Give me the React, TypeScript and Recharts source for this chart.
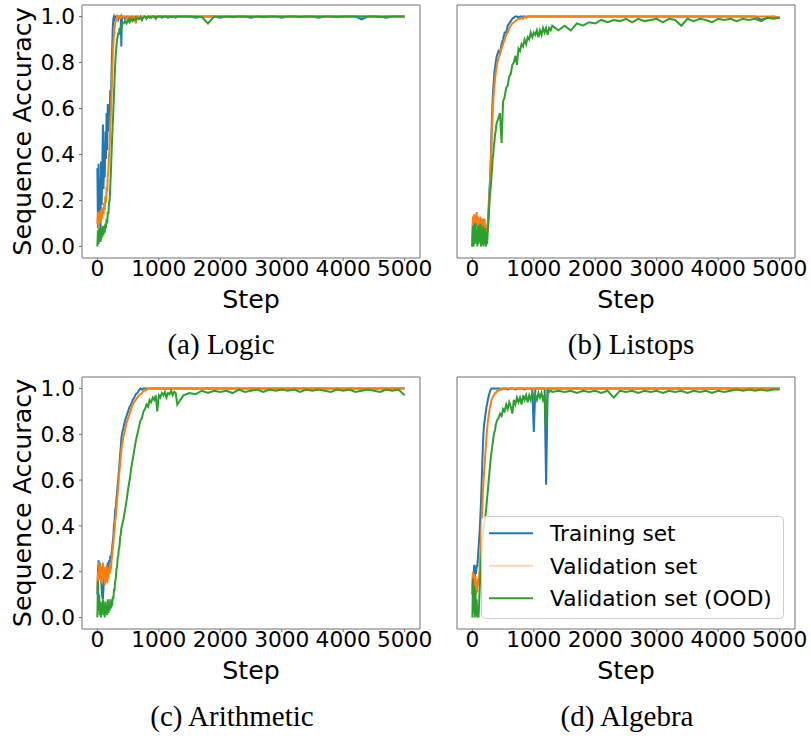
import React from "react";
import { LineChart, Line, XAxis, YAxis, ReferenceArea } from "recharts";

// training step grid (dense during the rise, sparse on the plateau)
const steps = [
  0, 10, 20, 30, 40, 50, 60, 70, 80, 90, 100, 110, 120, 130, 140, 150, 160, 170, 180, 190,
  200, 210, 220, 230, 240, 250, 260, 270, 280, 290, 300, 310, 320, 330, 340, 350, 360, 370, 380, 390, 400,
  425, 450, 475, 500, 525, 550, 575, 600, 625, 650, 675, 700, 725, 750, 775, 800, 825, 850, 875, 900,
  925, 950, 975, 1000, 1025, 1050, 1075, 1100, 1125, 1150, 1175, 1200, 1225, 1250, 1275, 1300,
  1400, 1500, 1600, 1700, 1800, 1900, 2000, 2100, 2200, 2300, 2400, 2500, 2600, 2700, 2800, 2900, 3000,
  3100, 3200, 3300, 3400, 3500, 3600, 3700, 3800, 3900, 4000, 4100, 4200, 4300, 4400, 4500, 4600, 4700,
  4800, 4900, 5000,
];

const logicTrain = [
  0.34, 0.08, 0.36, 0.12, 0.30, 0.02, 0.37, 0.18, 0.33, 0.53,
  0.25, 0.45, 0.30, 0.50, 0.38, 0.58, 0.42, 0.62, 0.50, 0.60,
  0.55, 0.68, 0.62, 0.75, 0.85, 0.95, 0.99, 1.0, 0.99, 1.0,
  1.0, 0.995, 1.0, 1.0, 0.99, 1.0, 1.0, 0.995, 1.0, 0.87, 1.0,
  1.0, 0.99, 1.0, 1.0, 0.985, 1.0, 1.0, 0.99, 1.0, 1.0,
  0.99, 1.0, 0.985, 1.0, 1.0, 0.99, 1.0, 1.0, 0.995, 1.0,
  1.0, 0.99, 1.0, 1.0, 1.0, 0.995, 1.0, 1.0, 1.0, 0.995,
  1.0, 1.0, 1.0, 1.0, 0.995, 1.0,
  1.0, 1.0, 0.995, 1.0, 1.0, 1.0, 0.995, 1.0, 1.0, 1.0,
  1.0, 0.995, 1.0, 1.0, 1.0, 1.0, 0.995, 1.0, 1.0, 1.0,
  1.0, 1.0, 0.995, 1.0, 1.0, 1.0, 1.0, 1.0, 1.0, 0.987,
  1.0, 1.0, 1.0, 0.995, 1.0, 1.0, 1.0,
];
const logicVal = [
  0.10, 0.15, 0.08, 0.14, 0.10, 0.16, 0.11, 0.15, 0.12, 0.17,
  0.14, 0.19, 0.16, 0.22, 0.19, 0.26, 0.24, 0.31, 0.33, 0.40,
  0.44, 0.52, 0.58, 0.66, 0.74, 0.82, 0.88, 0.92, 0.95, 0.97,
  0.98, 0.99, 1.0, 0.99, 1.0, 1.0, 1.0, 1.0, 0.995, 1.0, 1.0,
  1.0, 1.0, 0.99, 1.0, 1.0, 0.985, 1.0, 1.0, 0.97, 1.0,
  1.0, 0.99, 1.0, 1.0, 1.0, 0.995, 1.0, 1.0, 1.0, 1.0,
  0.995, 1.0, 1.0, 1.0, 1.0, 1.0, 1.0, 1.0, 1.0, 1.0,
  1.0, 1.0, 1.0, 1.0, 1.0, 1.0,
  1.0, 1.0, 1.0, 1.0, 1.0, 1.0, 1.0, 1.0, 1.0, 1.0,
  1.0, 1.0, 1.0, 1.0, 1.0, 1.0, 1.0, 1.0, 1.0, 1.0,
  1.0, 1.0, 1.0, 1.0, 1.0, 1.0, 1.0, 1.0, 1.0, 1.0,
  1.0, 1.0, 1.0, 1.0, 1.0, 1.0, 1.0,
];
const logicOod = [
  0.0, 0.07, 0.01, 0.08, 0.02, 0.07, 0.03, 0.08, 0.04, 0.09,
  0.05, 0.09, 0.06, 0.10, 0.08, 0.12, 0.10, 0.15, 0.14, 0.19,
  0.20, 0.26, 0.32, 0.40, 0.47, 0.53, 0.59, 0.66, 0.73, 0.79,
  0.84, 0.87, 0.90, 0.91, 0.93, 0.92, 0.95, 0.94, 0.96, 0.95, 0.97,
  0.97, 0.98, 0.97, 0.985, 0.975, 0.99, 0.98, 0.99, 0.985, 0.995,
  0.99, 0.995, 0.99, 0.995, 1.0, 0.995, 1.0, 0.995, 1.0, 1.0,
  1.0, 0.998, 1.0, 1.0, 1.0, 1.0, 0.998, 1.0, 1.0, 1.0,
  1.0, 0.998, 1.0, 1.0, 1.0, 1.0,
  1.0, 1.0, 1.0, 0.998, 0.97, 1.0, 1.0, 1.0, 0.998, 1.0,
  1.0, 1.0, 1.0, 0.998, 1.0, 1.0, 1.0, 1.0, 1.0, 0.998,
  1.0, 1.0, 1.0, 1.0, 1.0, 0.998, 1.0, 1.0, 1.0, 1.0,
  1.0, 1.0, 0.998, 1.0, 1.0, 1.0, 1.0,
];

const listopsTrain = [
  0.0, 0.12, 0.10, 0.13, 0.08, 0.12, 0.09, 0.13, 0.10, 0.12,
  0.07, 0.11, 0.08, 0.12, 0.09, 0.06, 0.11, 0.08, 0.12, 0.07,
  0.10, 0.06, 0.09, 0.05, 0.07, 0.10, 0.14, 0.20, 0.26, 0.30,
  0.38, 0.48, 0.57, 0.64, 0.69, 0.72, 0.76, 0.78, 0.80, 0.82, 0.83,
  0.85, 0.84, 0.88, 0.90, 0.93, 0.93, 0.96, 0.97, 0.98, 0.99,
  0.995, 1.0, 1.0, 0.995, 1.0, 1.0, 1.0, 1.0, 0.998, 1.0,
  1.0, 1.0, 1.0, 1.0, 1.0, 1.0, 1.0, 1.0, 1.0, 1.0,
  1.0, 1.0, 1.0, 1.0, 1.0, 1.0,
  1.0, 1.0, 1.0, 1.0, 1.0, 1.0, 1.0, 1.0, 1.0, 1.0,
  1.0, 1.0, 1.0, 1.0, 1.0, 1.0, 1.0, 1.0, 1.0, 1.0,
  1.0, 1.0, 1.0, 1.0, 1.0, 1.0, 1.0, 1.0, 1.0, 1.0,
  1.0, 1.0, 1.0, 0.985, 0.995, 1.0, 0.995,
];
const listopsVal = [
  0.0, 0.13, 0.11, 0.14, 0.10, 0.13, 0.11, 0.15, 0.09, 0.13,
  0.10, 0.12, 0.08, 0.13, 0.07, 0.10, 0.12, 0.07, 0.11, 0.08,
  0.12, 0.06, 0.09, 0.07, 0.06, 0.09, 0.12, 0.17, 0.23, 0.29,
  0.36, 0.44, 0.52, 0.58, 0.63, 0.67, 0.70, 0.73, 0.75, 0.77, 0.79,
  0.82, 0.84, 0.86, 0.88, 0.90, 0.92, 0.93, 0.95, 0.96, 0.97,
  0.975, 0.98, 0.985, 0.99, 0.99, 0.995, 0.99, 1.0, 0.995, 1.0,
  1.0, 1.0, 1.0, 1.0, 1.0, 1.0, 1.0, 1.0, 1.0, 1.0,
  1.0, 1.0, 1.0, 1.0, 1.0, 1.0,
  1.0, 1.0, 1.0, 1.0, 1.0, 1.0, 1.0, 1.0, 1.0, 1.0,
  1.0, 1.0, 1.0, 1.0, 1.0, 1.0, 1.0, 1.0, 1.0, 1.0,
  1.0, 1.0, 1.0, 1.0, 1.0, 1.0, 1.0, 1.0, 1.0, 1.0,
  1.0, 1.0, 1.0, 1.0, 1.0, 1.0, 0.995,
];
const listopsOod = [
  0.0, 0.09, 0.0, 0.08, 0.01, 0.10, 0.02, 0.07, 0.0, 0.09,
  0.01, 0.08, 0.02, 0.10, 0.0, 0.07, 0.01, 0.09, 0.0, 0.06,
  0.01, 0.08, 0.0, 0.05, 0.01, 0.06, 0.10, 0.15, 0.20, 0.24,
  0.26, 0.30, 0.34, 0.38, 0.40, 0.44, 0.46, 0.49, 0.50, 0.53, 0.54,
  0.56, 0.58, 0.45, 0.63, 0.65, 0.69, 0.70, 0.74, 0.75, 0.79,
  0.80, 0.83, 0.79, 0.86, 0.85, 0.88, 0.87, 0.90, 0.88, 0.91,
  0.90, 0.93, 0.91, 0.93, 0.92, 0.94, 0.91, 0.94, 0.92, 0.95,
  0.93, 0.95, 0.92, 0.95, 0.94, 0.96,
  0.94, 0.96, 0.94, 0.97, 0.96, 0.975, 0.97, 0.985, 0.975, 0.985,
  0.98, 0.99, 0.975, 0.99, 0.98, 0.985, 0.99, 0.975, 0.99, 0.985,
  0.96, 0.99, 0.98, 0.99, 0.985, 0.975, 0.99, 0.985, 0.99, 0.98,
  0.99, 0.985, 0.99, 0.98, 0.995, 0.99, 0.995,
];

const arithTrain = [
  0.10, 0.20, 0.25, 0.18, 0.24, 0.17, 0.22, 0.12, 0.09, 0.08,
  0.13, 0.18, 0.15, 0.21, 0.17, 0.22, 0.19, 0.24, 0.20, 0.25,
  0.22, 0.27, 0.24, 0.28, 0.30, 0.33, 0.35, 0.40, 0.42, 0.47,
  0.48, 0.52, 0.54, 0.58, 0.60, 0.64, 0.67, 0.71, 0.74, 0.78, 0.80,
  0.83, 0.86, 0.88, 0.90, 0.92, 0.93, 0.95, 0.96, 0.975, 0.98,
  0.99, 1.0, 0.995, 1.0, 1.0, 1.0, 1.0, 1.0, 1.0, 1.0,
  1.0, 1.0, 1.0, 1.0, 1.0, 1.0, 1.0, 1.0, 1.0, 1.0,
  1.0, 1.0, 1.0, 1.0, 1.0, 1.0,
  1.0, 1.0, 1.0, 1.0, 1.0, 1.0, 1.0, 1.0, 1.0, 1.0,
  1.0, 1.0, 1.0, 1.0, 1.0, 1.0, 1.0, 1.0, 1.0, 1.0,
  1.0, 1.0, 1.0, 1.0, 1.0, 1.0, 1.0, 1.0, 1.0, 1.0,
  1.0, 1.0, 1.0, 1.0, 1.0, 1.0, 1.0,
];
const arithVal = [
  0.12, 0.20, 0.16, 0.24, 0.18, 0.23, 0.15, 0.21, 0.17, 0.24,
  0.18, 0.22, 0.14, 0.20, 0.16, 0.23, 0.15, 0.21, 0.17, 0.22,
  0.19, 0.24, 0.21, 0.25, 0.27, 0.30, 0.32, 0.36, 0.38, 0.42,
  0.44, 0.48, 0.51, 0.54, 0.57, 0.61, 0.64, 0.67, 0.70, 0.73, 0.75,
  0.79, 0.82, 0.85, 0.87, 0.89, 0.91, 0.93, 0.94, 0.95, 0.96,
  0.97, 0.975, 0.98, 0.99, 0.99, 0.995, 1.0, 1.0, 1.0, 1.0,
  1.0, 1.0, 1.0, 1.0, 1.0, 1.0, 1.0, 1.0, 1.0, 1.0,
  1.0, 1.0, 1.0, 1.0, 1.0, 1.0,
  1.0, 1.0, 1.0, 1.0, 1.0, 1.0, 1.0, 1.0, 1.0, 1.0,
  1.0, 1.0, 1.0, 1.0, 1.0, 1.0, 1.0, 1.0, 1.0, 1.0,
  1.0, 1.0, 1.0, 1.0, 1.0, 1.0, 1.0, 1.0, 1.0, 1.0,
  1.0, 1.0, 1.0, 1.0, 1.0, 1.0, 1.0,
];
const arithOod = [
  0.0, 0.16, 0.03, 0.10, 0.01, 0.07, 0.0, 0.06, 0.02, 0.08,
  0.01, 0.06, 0.0, 0.07, 0.02, 0.05, 0.01, 0.08, 0.02, 0.06,
  0.03, 0.08, 0.04, 0.07, 0.05, 0.09, 0.08, 0.12, 0.12, 0.16,
  0.17, 0.21, 0.22, 0.26, 0.27, 0.30, 0.31, 0.35, 0.36, 0.39, 0.40,
  0.43, 0.47, 0.51, 0.56, 0.60, 0.65, 0.69, 0.73, 0.77, 0.80,
  0.83, 0.86, 0.87, 0.90, 0.91, 0.93, 0.92, 0.95, 0.94, 0.96,
  0.95, 0.97, 0.90, 0.97, 0.96, 0.98, 0.97, 0.985, 0.96, 0.98,
  0.975, 0.99, 0.97, 0.985, 0.98, 0.93,
  0.97, 0.98, 0.975, 0.99, 0.98, 0.99, 0.985, 0.99, 0.98, 0.995,
  0.985, 0.99, 0.995, 0.985, 0.995, 0.99, 0.995, 0.99, 0.995, 0.985,
  0.995, 0.99, 0.995, 0.99, 0.985, 0.995, 0.99, 0.995, 0.985, 0.99,
  0.995, 0.99, 0.985, 0.995, 0.99, 0.995, 0.97,
];

const algebraTrain = [
  0.10, 0.20, 0.17, 0.23, 0.18, 0.22, 0.19, 0.23, 0.22, 0.26,
  0.30, 0.34, 0.38, 0.44, 0.50, 0.58, 0.66, 0.74, 0.80, 0.84,
  0.86, 0.88, 0.90, 0.92, 0.93, 0.95, 0.96, 0.97, 0.98, 0.99,
  0.995, 1.0, 1.0, 1.0, 1.0, 1.0, 1.0, 1.0, 1.0, 1.0, 1.0,
  1.0, 1.0, 0.995, 1.0, 1.0, 1.0, 0.995, 1.0, 1.0, 1.0,
  1.0, 0.995, 1.0, 1.0, 1.0, 1.0, 1.0, 0.995, 1.0, 1.0,
  1.0, 1.0, 1.0, 0.81, 1.0, 1.0, 1.0, 1.0, 1.0, 1.0,
  1.0, 0.58, 1.0, 1.0, 1.0, 1.0,
  1.0, 1.0, 1.0, 1.0, 1.0, 1.0, 1.0, 1.0, 1.0, 1.0,
  1.0, 1.0, 1.0, 1.0, 1.0, 1.0, 1.0, 1.0, 1.0, 1.0,
  1.0, 1.0, 1.0, 1.0, 1.0, 1.0, 1.0, 1.0, 1.0, 1.0,
  1.0, 1.0, 1.0, 1.0, 1.0, 1.0, 1.0,
];
const algebraVal = [
  0.13, 0.20, 0.15, 0.19, 0.12, 0.18, 0.10, 0.16, 0.11, 0.17,
  0.14, 0.18, 0.22, 0.28, 0.34, 0.40, 0.47, 0.54, 0.59, 0.63,
  0.67, 0.71, 0.75, 0.79, 0.82, 0.85, 0.87, 0.89, 0.91, 0.92,
  0.935, 0.945, 0.955, 0.96, 0.965, 0.97, 0.975, 0.98, 0.98, 0.985, 0.99,
  0.99, 0.995, 1.0, 1.0, 0.998, 1.0, 1.0, 1.0, 1.0, 1.0,
  1.0, 1.0, 1.0, 1.0, 1.0, 1.0, 1.0, 1.0, 1.0, 1.0,
  1.0, 1.0, 1.0, 1.0, 1.0, 1.0, 1.0, 1.0, 1.0, 1.0,
  1.0, 1.0, 1.0, 1.0, 1.0, 1.0,
  1.0, 1.0, 1.0, 1.0, 1.0, 1.0, 1.0, 1.0, 1.0, 1.0,
  1.0, 1.0, 1.0, 1.0, 1.0, 1.0, 1.0, 1.0, 1.0, 1.0,
  1.0, 1.0, 1.0, 1.0, 1.0, 1.0, 1.0, 1.0, 1.0, 1.0,
  1.0, 1.0, 1.0, 1.0, 1.0, 1.0, 1.0,
];
const algebraOod = [
  0.0, 0.17, 0.02, 0.14, 0.0, 0.12, 0.01, 0.08, 0.0, 0.03,
  0.0, 0.06, 0.13, 0.19, 0.24, 0.28, 0.32, 0.35, 0.38, 0.40,
  0.42, 0.44, 0.46, 0.49, 0.52, 0.55, 0.58, 0.61, 0.64, 0.67,
  0.70, 0.72, 0.74, 0.76, 0.78, 0.80, 0.81, 0.82, 0.84, 0.85, 0.86,
  0.87, 0.89, 0.88, 0.91, 0.90, 0.93, 0.91, 0.94, 0.92, 0.89,
  0.95, 0.93, 0.96, 0.94, 0.96, 0.93, 0.97, 0.95, 0.97, 0.94,
  0.97, 0.95, 0.98, 0.96, 0.97, 0.95, 0.98, 0.96, 0.98, 0.95,
  0.97, 0.83, 0.99, 0.985, 0.99, 0.985,
  0.99, 0.985, 0.99, 0.98, 0.99, 0.985, 0.99, 0.98, 0.99, 0.96,
  0.99, 0.985, 0.99, 0.98, 0.99, 0.985, 0.99, 0.98, 0.99, 0.985,
  0.99, 0.98, 0.99, 0.985, 0.99, 0.98, 0.99, 0.985, 0.99, 0.995,
  0.99, 0.995, 0.99, 0.995, 0.99, 0.995, 0.995,
];

const xTicks = [0, 1000, 2000, 3000, 4000, 5000];
const yTicks = [0, 0.2, 0.4, 0.6, 0.8, 1.0];
const seriesNames = ["Training set", "Validation set", "Validation set (OOD)"];
const seriesColors = ["#1f77b4", "#ff7f0e", "#2ca02c"];
const legendColors = ["#1f77b4", "#ffd3ad", "#2ca02c"];

const SANS = "'DejaVu Sans', Verdana, sans-serif";
const SERIF = "'Liberation Serif', 'Times New Roman', serif";
const SPINE = "#707070";
const PLOT_W = 338;

type PanelProps = {
  left: number;
  top: number;
  plotH: number;
  marginTop: number;
  showY: boolean;
  train: number[];
  val: number[];
  ood: number[];
};

const Panel = ({ left, top, plotH, marginTop, showY, train, val, ood }: PanelProps) => {
  const data = steps.map((step, i) => ({ step, train: train[i], val: val[i], ood: ood[i] }));
  const yW = showY ? 82 : 12;
  const mr = showY ? 18 : 14;
  return (
    <div style={{ position: "absolute", left, top }}>
      <LineChart
        width={yW + PLOT_W + mr}
        height={marginTop + plotH + 60}
        data={data}
        margin={{ top: marginTop, right: mr, bottom: 0, left: 0 }}
      >
        <XAxis
          type="number"
          dataKey="step"
          domain={[-250, 5250]}
          ticks={xTicks}
          interval={0}
          height={60}
          tickSize={3}
          tickMargin={0}
          axisLine={false}
          stroke={SPINE}
          tick={{ fill: "#000", fontSize: 21.7, fontFamily: SANS }}
          label={{ value: "Step", position: "insideBottom", offset: 10, fill: "#000", fontSize: 25.3, fontFamily: SANS }}
        />
        <YAxis
          type="number"
          domain={[-0.05, 1.05]}
          ticks={yTicks}
          interval={0}
          width={yW}
          tickSize={3}
          tickMargin={4}
          axisLine={false}
          stroke={SPINE}
          tick={showY ? { fill: "#000", fontSize: 21.7, fontFamily: SANS } : false}
          tickFormatter={(v: number) => v.toFixed(1)}
        />
        <Line type="linear" dataKey="train" stroke={seriesColors[0]} strokeWidth={2} dot={false} activeDot={false} isAnimationActive={false} />
        <Line type="linear" dataKey="val" stroke={seriesColors[1]} strokeWidth={2} dot={false} activeDot={false} isAnimationActive={false} />
        <Line type="linear" dataKey="ood" stroke={seriesColors[2]} strokeWidth={2} dot={false} activeDot={false} isAnimationActive={false} />
        <ReferenceArea x1={-250} x2={5250} y1={-0.05} y2={1.05} fill="none" fillOpacity={0} stroke={SPINE} strokeWidth={1} ifOverflow="visible" />
      </LineChart>
    </div>
  );
};

const YLabel = ({ cy }: { cy: number }) => (
  <text
    x={31}
    y={cy}
    transform={`rotate(-90, 31, ${cy})`}
    textAnchor="middle"
    fontFamily={SANS}
    fontSize={25.3}
    fill="#000"
  >
    Sequence Accuracy
  </text>
);

const Caption = ({ x, y, text }: { x: number; y: number; text: string }) => (
  <text x={x} y={y} textAnchor="middle" fontFamily={SERIF} fontSize={29} fill="#000">
    {text}
  </text>
);

const Overlay = () => {
  const rows = [533.3, 565.7, 598.3];
  return (
    <svg width={811} height={740} style={{ position: "absolute", left: 0, top: 0, pointerEvents: "none" }}>
      <YLabel cy={131.5} />
      <YLabel cy={503} />
      <Caption x={221} y={354} text="(a) Logic" />
      <Caption x={631} y={354} text="(b) Listops" />
      <Caption x={232} y={726} text="(c) Arithmetic" />
      <Caption x={627} y={726} text="(d) Algebra" />
      <rect x={481.5} y={516.5} width={302} height={102} rx={4} fill="#fff" fillOpacity={0.8} stroke="#cccccc" />
      {seriesNames.map((name, i) => (
        <g key={name}>
          <line x1={489} x2={533} y1={rows[i]} y2={rows[i]} stroke={legendColors[i]} strokeWidth={2} />
          <text x={550} y={rows[i] + 7.9} fontFamily={SANS} fontSize={21.7} fill="#000">
            {name}
          </text>
        </g>
      ))}
    </svg>
  );
};

export default function App() {
  return (
    <div
      style={{
        position: "absolute",
        left: 0,
        top: 0,
        width: 811,
        height: 740,
        overflow: "hidden",
        background: "#fff",
        fontFamily: SANS,
      }}
    >
      <Panel left={0} top={0} plotH={253} marginTop={5} showY train={logicTrain} val={logicVal} ood={logicOod} />
      <Panel left={445} top={0} plotH={253} marginTop={5} showY={false} train={listopsTrain} val={listopsVal} ood={listopsOod} />
      <Panel left={0} top={367} plotH={252} marginTop={10} showY train={arithTrain} val={arithVal} ood={arithOod} />
      <Panel left={445} top={367} plotH={252} marginTop={10} showY={false} train={algebraTrain} val={algebraVal} ood={algebraOod} />
      <Overlay />
    </div>
  );
}
